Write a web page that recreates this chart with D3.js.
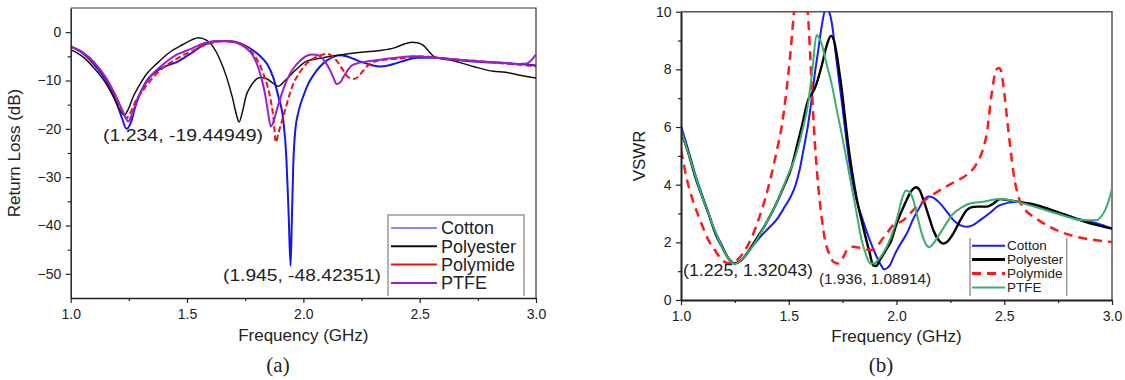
<!DOCTYPE html>
<html>
<head>
<meta charset="utf-8">
<script src="https://cdn.jsdelivr.net/npm/d3@7"></script>
<style>
  body { margin: 0; background: #fff; }
  svg { display: block; }
  text { font-family: "Liberation Sans", Arial, sans-serif; fill: #222; }
</style>
</head>
<body>
<svg id="chart" width="1125" height="380"></svg>
<script>
// ---------------- DATA ----------------
const seriesNames = ["Cotton", "Polyester", "Polymide", "PTFE"];
const xTicks = [1.0, 1.5, 2.0, 2.5, 3.0];
const xMinorTicks = [1.25, 1.75, 2.25, 2.75];
const rlTicks = [0, -10, -20, -30, -40, -50];
const rlMinorTicks = [-5, -15, -25, -35, -45];
const vswrTicks = [0, 2, 4, 6, 8, 10];
const vswrMinorTicks = [1, 3, 5, 7, 9];

// (a) Return loss (dB) vs frequency (GHz)
const cottonRL = [[1.0,-3.0],[1.05,-4.3],[1.097,-6.5],[1.135,-8.8],[1.168,-11.4],[1.2,-15],[1.219,-17.6],[1.24,-20.0],[1.26,-18.5],[1.277,-15.5],[1.3,-12.5],[1.327,-10.0],[1.355,-8.6],[1.384,-7.6],[1.42,-6.8],[1.456,-6.2],[1.49,-5.2],[1.527,-4.1],[1.555,-3.1],[1.584,-2.4],[1.641,-1.85],[1.69,-1.9],[1.713,-2.06],[1.75,-2.8],[1.785,-3.8],[1.815,-5.0],[1.843,-6.5],[1.87,-9.3],[1.893,-13.4],[1.914,-18.3],[1.927,-26],[1.937,-38],[1.945,-48.4],[1.951,-38],[1.957,-27],[1.966,-20],[1.979,-16.5],[2.0,-13.2],[2.02,-10.8],[2.043,-8.9],[2.07,-7.2],[2.1,-5.9],[2.13,-5.1],[2.157,-4.8],[2.185,-5.0],[2.215,-5.5],[2.245,-6.1],[2.272,-6.5],[2.3,-6.9],[2.33,-7.1],[2.365,-6.9],[2.401,-6.4],[2.44,-5.8],[2.487,-5.3],[2.573,-5.3],[2.688,-5.9],[2.78,-6.2],[2.867,-6.4],[2.93,-6.6],[3.0,-6.9]];
const polyesterRL = [[1.0,-3.6],[1.05,-5.0],[1.1,-7.4],[1.15,-10.5],[1.19,-14],[1.215,-16.4],[1.23,-17.2],[1.245,-16.2],[1.27,-13.2],[1.3,-10.6],[1.327,-8.6],[1.37,-6.5],[1.427,-4.1],[1.48,-2.6],[1.52,-1.6],[1.549,-1.16],[1.585,-1.7],[1.613,-3.1],[1.64,-5.5],[1.67,-9.3],[1.695,-13.5],[1.712,-17],[1.724,-18.6],[1.738,-16.5],[1.755,-13],[1.771,-11.4],[1.79,-10.1],[1.814,-9.4],[1.84,-9.6],[1.871,-10.6],[1.893,-11.2],[1.915,-10.3],[1.957,-8.3],[1.986,-7.0],[2.014,-6.0],[2.072,-5.4],[2.13,-4.9],[2.186,-4.5],[2.26,-4.1],[2.33,-3.8],[2.394,-3.2],[2.43,-2.5],[2.466,-2.07],[2.49,-2.2],[2.516,-2.75],[2.54,-4.0],[2.566,-5.2],[2.645,-5.9],[2.73,-7.1],[2.817,-8.1],[2.867,-8.3],[2.93,-8.9],[3.0,-9.5]];
const polymideRL = [[1.0,-3.0],[1.05,-4.2],[1.1,-6.3],[1.15,-9.5],[1.2,-14],[1.225,-16.8],[1.24,-17.8],[1.255,-16.8],[1.28,-14.2],[1.3,-12.8],[1.327,-11.0],[1.355,-9.3],[1.384,-7.9],[1.42,-6.6],[1.456,-5.5],[1.49,-4.6],[1.527,-3.8],[1.56,-3.0],[1.598,-2.3],[1.67,-1.85],[1.727,-2.3],[1.76,-3.2],[1.785,-4.5],[1.81,-6.5],[1.828,-8.6],[1.845,-11],[1.857,-13.4],[1.872,-18],[1.882,-22.8],[1.892,-21],[1.9,-19.7],[1.921,-16.2],[1.94,-13],[1.957,-10.7],[1.985,-8.3],[2.014,-6.5],[2.045,-5.4],[2.072,-4.8],[2.1,-4.5],[2.12,-4.8],[2.143,-5.9],[2.17,-7.8],[2.193,-9.3],[2.222,-9.65],[2.24,-9.0],[2.258,-7.9],[2.28,-6.8],[2.3,-6.2],[2.35,-5.7],[2.401,-5.5],[2.501,-5.0],[2.616,-5.5],[2.76,-6.0],[2.867,-6.5],[2.94,-6.8],[3.0,-7.1]];
const ptfeRL = [[1.0,-3.0],[1.05,-4.1],[1.1,-6.2],[1.15,-9.3],[1.2,-13.8],[1.23,-17],[1.247,-18.5],[1.262,-17.2],[1.285,-14],[1.327,-10.3],[1.355,-8.5],[1.384,-7.2],[1.42,-5.8],[1.45,-4.8],[1.484,-4.1],[1.52,-3.4],[1.556,-2.6],[1.59,-2.1],[1.627,-1.85],[1.699,-2.06],[1.73,-2.6],[1.756,-3.4],[1.78,-4.6],[1.8,-6.5],[1.818,-9.2],[1.835,-12.7],[1.848,-16.5],[1.86,-19.5],[1.872,-18.5],[1.885,-16.2],[1.9,-13.8],[1.92,-11],[1.943,-8.6],[1.965,-7],[1.986,-5.9],[2.01,-5.0],[2.036,-4.6],[2.055,-4.65],[2.072,-5.0],[2.095,-6.2],[2.115,-7.9],[2.13,-9.5],[2.143,-10.7],[2.158,-10.4],[2.172,-9.3],[2.19,-7.9],[2.208,-6.9],[2.235,-6.4],[2.258,-6.2],[2.33,-5.7],[2.4,-5.3],[2.473,-5.0],[2.55,-5.2],[2.616,-5.5],[2.75,-6.0],[2.867,-6.4],[2.93,-6.6],[2.96,-6.5],[2.98,-5.8],[3.0,-4.6]];

// (b) VSWR vs frequency (GHz)
const cottonVSWR = [[1.0,6.04],[1.03,5.3],[1.065,4.39],[1.1,3.6],[1.127,3.0],[1.16,2.35],[1.189,1.91],[1.215,1.5],[1.243,1.27],[1.26,1.28],[1.281,1.39],[1.31,1.65],[1.343,1.96],[1.375,2.25],[1.405,2.48],[1.44,2.75],[1.482,3.24],[1.51,3.6],[1.529,3.93],[1.55,4.5],[1.568,5.2],[1.59,6.1],[1.606,6.94],[1.62,7.8],[1.637,8.67],[1.655,9.6],[1.672,10.1],[1.687,10.0],[1.7,9.6],[1.714,8.79],[1.73,7.8],[1.745,6.94],[1.765,5.7],[1.784,4.63],[1.81,3.6],[1.838,2.9],[1.87,2.2],[1.9,1.63],[1.925,1.25],[1.943,1.06],[1.955,1.1],[1.97,1.21],[1.99,1.55],[2.015,1.9],[2.047,2.3],[2.08,2.85],[2.109,3.24],[2.13,3.5],[2.148,3.59],[2.17,3.55],[2.202,3.35],[2.235,3.05],[2.264,2.77],[2.295,2.6],[2.326,2.54],[2.355,2.6],[2.388,2.77],[2.43,3.0],[2.48,3.29],[2.558,3.41],[2.65,3.24],[2.743,3.06],[2.836,2.83],[2.929,2.66],[3.0,2.48]];
const polyesterVSWR = [[1.0,5.84],[1.03,5.2],[1.065,4.3],[1.1,3.55],[1.13,2.95],[1.16,2.3],[1.19,1.85],[1.22,1.45],[1.25,1.27],[1.275,1.35],[1.3,1.55],[1.343,2.04],[1.39,2.6],[1.436,3.24],[1.475,3.9],[1.514,4.63],[1.54,5.4],[1.56,6.0],[1.59,6.94],[1.621,7.34],[1.652,8.1],[1.675,8.8],[1.696,9.16],[1.71,9.0],[1.722,8.55],[1.735,7.9],[1.745,7.36],[1.76,6.4],[1.776,5.38],[1.795,4.4],[1.815,3.53],[1.835,2.85],[1.854,2.26],[1.875,1.65],[1.892,1.2],[1.905,1.18],[1.923,1.39],[1.95,1.72],[1.977,2.08],[2.001,2.66],[2.025,3.1],[2.047,3.47],[2.07,3.8],[2.091,3.91],[2.108,3.8],[2.125,3.47],[2.15,2.9],[2.171,2.42],[2.195,2.08],[2.218,1.96],[2.24,2.05],[2.264,2.31],[2.295,2.75],[2.326,3.12],[2.35,3.22],[2.373,3.24],[2.419,3.24],[2.45,3.35],[2.48,3.5],[2.558,3.41],[2.65,3.29],[2.743,3.06],[2.82,2.85],[2.898,2.66],[3.0,2.48]];
const polymideVSWR = [[1.0,5.2],[1.03,4.1],[1.065,3.24],[1.1,2.55],[1.127,2.08],[1.16,1.7],[1.189,1.39],[1.215,1.28],[1.235,1.27],[1.26,1.38],[1.297,1.73],[1.33,2.2],[1.359,2.77],[1.39,3.5],[1.421,4.39],[1.445,5.2],[1.467,6.01],[1.49,7.3],[1.506,8.44],[1.521,9.71],[1.535,10.8],[1.555,11.3],[1.575,10.8],[1.59,9.8],[1.606,7.5],[1.62,5.6],[1.637,3.93],[1.652,2.9],[1.668,2.08],[1.688,1.6],[1.707,1.33],[1.73,1.27],[1.75,1.45],[1.776,1.79],[1.8,1.85],[1.838,1.79],[1.865,1.75],[1.885,1.73],[1.91,1.85],[1.931,2.08],[1.955,2.3],[1.977,2.54],[2.032,2.77],[2.094,3.24],[2.156,3.59],[2.218,3.88],[2.27,4.1],[2.326,4.34],[2.373,4.74],[2.4,5.2],[2.419,5.78],[2.442,7.17],[2.462,7.98],[2.475,8.05],[2.485,7.95],[2.5,7.2],[2.512,6.36],[2.528,5.3],[2.543,4.39],[2.574,3.41],[2.6,3.1],[2.636,2.89],[2.743,2.42],[2.836,2.19],[2.92,2.08],[3.0,2.01]];
const ptfeVSWR = [[1.0,5.9],[1.03,5.2],[1.065,4.35],[1.1,3.55],[1.13,2.95],[1.16,2.35],[1.19,1.85],[1.22,1.45],[1.25,1.25],[1.275,1.35],[1.3,1.55],[1.343,1.98],[1.39,2.6],[1.436,3.24],[1.46,3.65],[1.482,4.05],[1.5,4.4],[1.52,4.74],[1.54,5.2],[1.56,5.78],[1.59,6.82],[1.61,8.0],[1.629,9.19],[1.64,9.1],[1.652,8.9],[1.675,8.2],[1.699,7.5],[1.72,6.7],[1.745,5.78],[1.77,4.8],[1.792,3.93],[1.815,3.0],[1.838,2.08],[1.86,1.55],[1.877,1.27],[1.895,1.27],[1.915,1.39],[1.94,1.65],[1.962,1.96],[1.98,2.3],[2.005,2.9],[2.025,3.5],[2.044,3.8],[2.06,3.75],[2.078,3.47],[2.095,2.95],[2.117,2.31],[2.135,1.95],[2.152,1.83],[2.175,2.0],[2.202,2.31],[2.235,2.7],[2.264,3.0],[2.3,3.2],[2.341,3.35],[2.403,3.41],[2.48,3.5],[2.589,3.35],[2.743,3.0],[2.867,2.77],[2.929,2.77],[2.95,2.9],[2.968,3.12],[2.985,3.45],[3.0,3.87]];

const annotationsA = [{x:1.234, y:-19.44949, label:"(1.234, -19.44949)"}, {x:1.945, y:-48.42351, label:"(1.945, -48.42351)"}];
const annotationsB = [{x:1.225, y:1.32043, label:"(1.225, 1.32043)"}, {x:1.936, y:1.08914, label:"(1.936, 1.08914)"}];

// ---------------- DRAW ----------------
const svg = d3.select("#chart");
svg.append("rect").attr("width",1125).attr("height",380).attr("fill","#fff");

function drawPanel(cfg) {
  const g = svg.append("g");
  const x = d3.scaleLinear().domain([1,3]).range(cfg.xr);
  const y = d3.scaleLinear().domain(cfg.yd).range(cfg.yr);
  const [x0,x1] = cfg.xr, [y0,y1] = cfg.yr;

  const clipId = cfg.id + "clip";
  svg.append("clipPath").attr("id", clipId).append("rect")
    .attr("x", x0).attr("y", y1).attr("width", x1-x0).attr("height", y0-y1);

  // frame (top/right)
  g.append("path").attr("d", `M${x0},${y1}H${x1}V${y0}`).attr("fill","none")
    .attr("stroke", cfg.frameColor).attr("stroke-width", cfg.frameW);

  // series
  const line = d3.line().x(d=>x(d[0])).y(d=>y(d[1])).curve(d3.curveMonotoneX);
  const lg = g.append("g").attr("clip-path", `url(#${clipId})`);
  cfg.series.forEach(s => {
    lg.append("path").datum(s.data).attr("d", line).attr("fill","none")
      .attr("stroke", s.color).attr("stroke-width", s.w)
      .attr("stroke-dasharray", s.dash || null)
      .attr("stroke-linejoin","round");
  });

  // axes
  const xAxis = g.append("g").attr("transform", `translate(0,${y0})`)
    .call(d3.axisBottom(x).tickValues(xTicks).tickFormat(d3.format(".1f")).tickSize(5).tickSizeOuter(0));
  g.append("g").attr("transform", `translate(0,${y0})`)
    .call(d3.axisBottom(x).tickValues(xMinorTicks).tickFormat("").tickSize(3).tickSizeOuter(0))
    .select(".domain").remove();
  const yAxis = g.append("g").attr("transform", `translate(${x0},0)`)
    .call(d3.axisLeft(y).tickValues(cfg.yTicks).tickSize(5).tickSizeOuter(0));
  g.append("g").attr("transform", `translate(${x0},0)`)
    .call(d3.axisLeft(y).tickValues(cfg.yMinor).tickFormat("").tickSize(3).tickSizeOuter(0))
    .select(".domain").remove();
  g.selectAll(".domain").attr("stroke", "#222").attr("stroke-width", cfg.axisW);
  g.selectAll(".tick line").attr("stroke", "#222").attr("stroke-width", 1.2);
  xAxis.selectAll("text").attr("font-size", cfg.tickFont).attr("dy", "0.9em").style("font-family","Liberation Sans, Arial, sans-serif");
  yAxis.selectAll("text").attr("font-size", cfg.tickFont).attr("dx", "-0.1em").style("font-family","Liberation Sans, Arial, sans-serif");

  // axis titles
  g.append("text").attr("x", (x0+x1)/2).attr("y", cfg.xTitleY).attr("text-anchor","middle")
    .attr("font-size", cfg.titleFont).text("Frequency (GHz)");
  g.append("text").attr("transform", `translate(${cfg.yTitleX},${(y0+y1)/2}) rotate(-90)`)
    .attr("text-anchor","middle").attr("font-size", cfg.titleFont).text(cfg.yTitle);
  // panel caption
  g.append("text").attr("x", cfg.capX).attr("y", 372).attr("text-anchor","middle")
    .attr("font-size", 21).style("font-family","Liberation Serif, Times New Roman, serif").text(cfg.caption);

  // annotations
  cfg.annotations.forEach((a, i) => {
    const p = cfg.annPos[i];
    g.append("text").attr("x", p.x).attr("y", p.y).attr("font-size", p.fs)
      .attr("textLength", p.len).attr("lengthAdjust","spacingAndGlyphs").text(a.label);
  });

  // legend
  const L = cfg.legend;
  g.append("path").attr("d", L.frame).attr("fill","none").attr("stroke","#999").attr("stroke-width",1.5);
  cfg.series.forEach((s, i) => {
    const yy = L.y0 + i*L.dy;
    g.append("line").attr("x1", L.lx0).attr("x2", L.lx1).attr("y1", yy).attr("y2", yy)
      .attr("stroke", s.color).attr("stroke-width", s.lw)
      .attr("stroke-dasharray", L.dashed ? (s.ldash || null) : null);
    g.append("text").attr("x", L.tx).attr("y", yy).attr("dy","0.35em")
      .attr("font-size", L.fs).text(seriesNames[i]);
  });
}

drawPanel({
  id: "a", xr: [70.7, 536], yd: [-55, 5], yr: [298, 8],
  yTicks: rlTicks, yMinor: rlMinorTicks, frameColor: "#333", frameW: 1.2, axisW: 1.5,
  tickFont: 14, titleFont: 17, xTitleY: 341, yTitleX: 20, yTitle: "Return Loss (dB)",
  capX: 278, caption: "(a)",
  series: [
    {data: cottonRL, color: "#1515f0", w: 2, lw: 1.2},
    {data: polyesterRL, color: "#111", w: 1.5, lw: 2},
    {data: polymideRL, color: "#f01010", w: 2, dash: "6,3", lw: 2},
    {data: ptfeRL, color: "#9a1fcf", w: 2, lw: 2}
  ],
  annotations: annotationsA,
  annPos: [{x:103, y:141, fs:17, len:160}, {x:223, y:281, fs:17, len:158}],
  legend: {frame: "M388,296V215H524V296", y0: 228, dy: 18.3, lx0: 391, lx1: 437, tx: 441, fs: 18, dashed: false}
});

drawPanel({
  id: "b", xr: [681, 1112], yd: [0, 10], yr: [300, 11.7],
  yTicks: vswrTicks, yMinor: vswrMinorTicks, frameColor: "#555", frameW: 1.5, axisW: 2,
  tickFont: 14, titleFont: 17, xTitleY: 342, yTitleX: 645, yTitle: "VSWR",
  capX: 881, caption: "(b)",
  series: [
    {data: cottonVSWR, color: "#1a1aff", w: 2, lw: 2},
    {data: polyesterVSWR, color: "#000", w: 2.4, lw: 3},
    {data: polymideVSWR, color: "#ff1a1a", w: 2.5, dash: "9,6", lw: 3, ldash: "9,6"},
    {data: ptfeVSWR, color: "#3aae6a", w: 2, lw: 2}
  ],
  annotations: annotationsB,
  annPos: [{x:683, y:276, fs:16, len:130}, {x:819, y:284, fs:14, len:112}],
  legend: {frame: "M970,238V296M1066.7,238V296", y0: 245.7, dy: 13.9, lx0: 972, lx1: 1005, tx: 1007, fs: 13.5, dashed: true}
});
</script>
</body>
</html>
